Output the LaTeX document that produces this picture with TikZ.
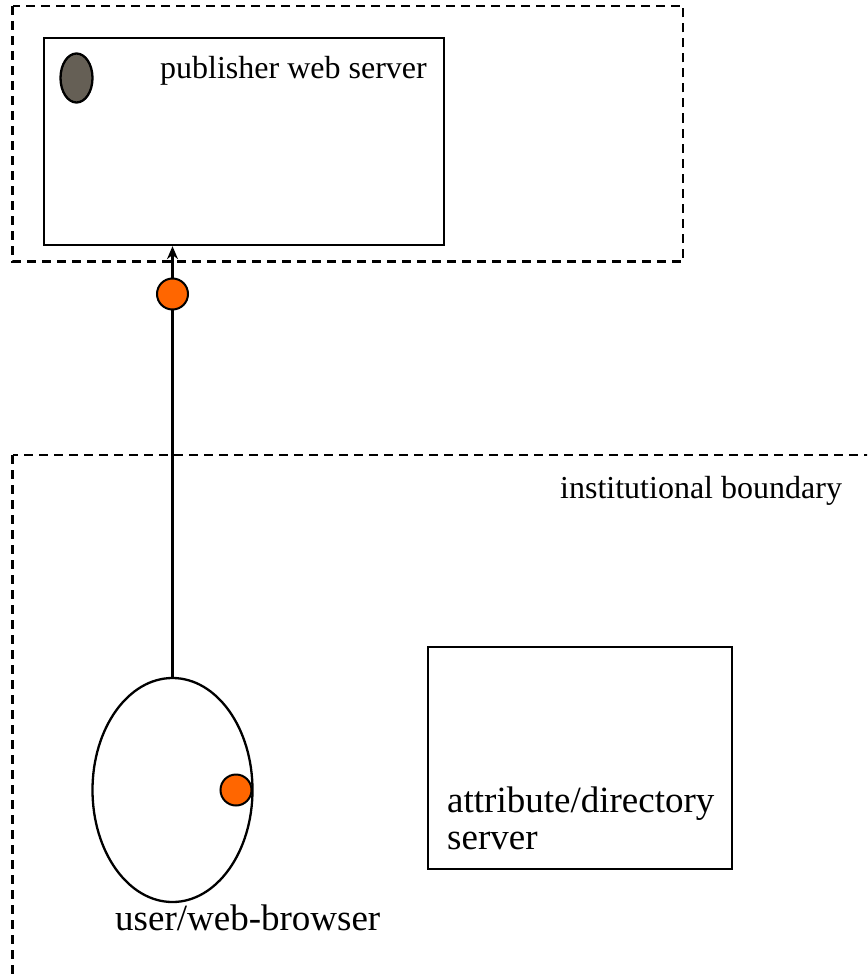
\documentclass[tikz,border=0pt]{standalone}
\usepackage{fontspec}
\setmainfont{Liberation Serif}
\usetikzlibrary{shapes.geometric,arrows.meta}
\definecolor{orng}{RGB}{255,102,0}
\definecolor{greyb}{RGB}{101,95,85}
\begin{document}
\begin{tikzpicture}[x=1pt,y=-1pt,
  box/.style={draw, line width=2.3pt, inner sep=0pt},
  bound/.style={draw, line width=2.5pt, dash pattern=on 9pt off 6pt},
  token/.style={circle, draw, fill=orng, line width=2pt, minimum size=31pt, inner sep=0pt},
  lbl/.style={anchor=base west, inner sep=0pt, font=\fontsize{32}{38}\selectfont},
  biglbl/.style={anchor=base west, inner sep=0pt, font=\fontsize{37}{44}\selectfont},
  link/.style={line width=2.2pt, -{Stealth[length=13pt,width=11pt]}}]
\useasboundingbox (0,0) rectangle (867,979);
\clip (0,0) rectangle (867,979);
% boundaries
\draw[bound] (12.5,6) rectangle (683,261.5);
\draw[bound] (12.5,455) rectangle (900,1010);
% publisher web server
\node[box, minimum width=400pt, minimum height=207pt] (pub) at (244,141.5) {};
\node[fill=greyb, draw, ellipse, line width=2.3pt, minimum width=32pt, minimum height=49pt, inner sep=0pt] (grey) at (76.5,78) {};
\node[lbl] (publbl) at (160,79) {publisher web server};
% institutional boundary label
\node[lbl] (inst) at (560,498) {institutional boundary};
% attribute/directory server
\node[box, minimum width=304pt, minimum height=222pt] (attr) at (580,758) {};
\node[biglbl] (attrlbl1) at (447,812) {attribute/directory};
\node[biglbl] (attrlbl2) at (447,849) {server};
% user
\node[draw, ellipse, line width=2.3pt, minimum width=160pt, minimum height=224pt, inner sep=0pt] (user) at (172.5,790) {};
\node[biglbl] (userlbl) at (115,930) {user/web-browser};
% connector
\draw[link] (user.north) -- (user.north |- pub.south);
\node[token] (t1) at (172.5,294) {};
\node[token] (t2) at (236,790) {};
\end{tikzpicture}
\end{document}
